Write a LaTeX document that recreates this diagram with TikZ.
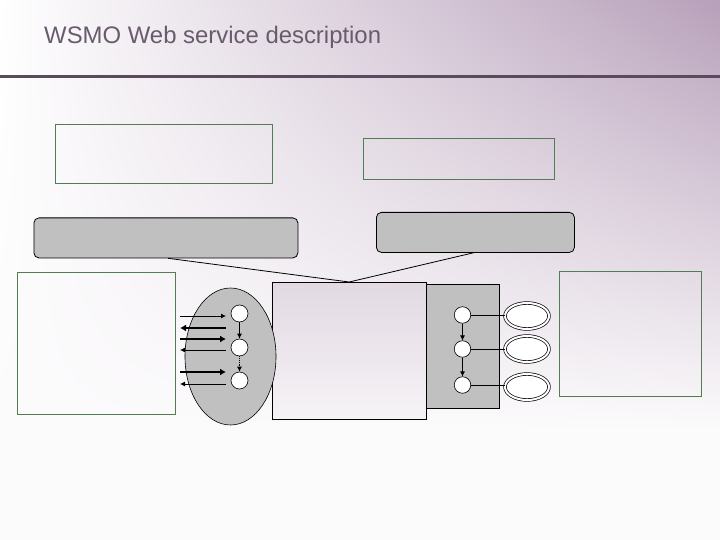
\documentclass[tikz,border=0pt]{standalone}
\usepackage{fontspec}
\setmainfont{Liberation Sans}
\usetikzlibrary{calc,shapes.geometric,arrows.meta,shadings}
\definecolor{bgpurple}{RGB}{183,160,186}
\definecolor{bgpale}{RGB}{252,251,252}
\definecolor{titlecol}{RGB}{106,90,110}
\definecolor{rulecol}{RGB}{90,74,94}
\definecolor{boxgreen}{RGB}{80,125,82}
\definecolor{panelgray}{RGB}{192,192,192}
\begin{document}
\begin{tikzpicture}[x=1pt,y=-1pt,
  greenbox/.style={draw=boxgreen,line width=0.9pt,anchor=north west,inner sep=0pt},
  capbox/.style={draw=black,fill=panelgray,rounded corners=5pt,line width=0.8pt,anchor=north west,inner sep=0pt},
  state/.style={circle,draw=black,fill=white,line width=0.6pt,minimum size=17pt,inner sep=0pt},
  outring/.style={ellipse,draw=black,double=white,double distance=2pt,line width=0.7pt,fill=white,minimum width=44pt,minimum height=26pt,inner sep=0pt},
  tip/.style={-{Latex[length=5pt,width=5pt]}},
  msgthin/.style={tip,line width=0.8pt},
  msgthick/.style={tip,line width=2.2pt,-{Latex[length=6pt,width=7pt]}}]
\useasboundingbox (0,0) rectangle (720,540);
\fill[bgpale] (0,430) rectangle (720,540);
\shade[upper left=white,upper right=bgpurple,lower left=bgpale,lower right=bgpale] (0,0) rectangle (720,430.5);
\node[anchor=base west,text=titlecol,font=\fontsize{23.9}{28}\selectfont,inner sep=0pt] (title) at (44,44) {WSMO Web service description};
\draw[rulecol,line width=3pt] (0,77) -- (720,77);

\node[greenbox,minimum width=217pt,minimum height=59pt] (goalA) at (55,124) {};
\node[greenbox,minimum width=191pt,minimum height=41pt] (goalB) at (363,138) {};
\node[greenbox,minimum width=158pt,minimum height=142pt] (leftbox) at (17,272) {};
\node[greenbox,minimum width=142pt,minimum height=125pt] (rightbox) at (559,271) {};

\node[capbox,minimum width=264pt,minimum height=40pt] (capA) at (33.5,217.5) {};
\node[capbox,minimum width=198pt,minimum height=40pt] (capB) at (376,212) {};

\node[draw=black,fill=panelgray,line width=0.8pt,anchor=north west,inner sep=0pt,minimum width=74pt,minimum height=124pt] (orch) at (425,284) {};
\node[draw=black,top color={rgb,255:red,226;green,217;blue,227},bottom color={rgb,255:red,246;green,243;blue,246},line width=0.8pt,anchor=north west,inner sep=0pt,minimum width=153.5pt,minimum height=137pt] (mid) at (272,282) {};
\node[ellipse,draw=black,fill=panelgray,line width=0.6pt,minimum width=91pt,minimum height=137pt,inner sep=0pt] (chor) at (230.5,356.5) {};

\node[state] (chor1) at (239.5,313.5) {};
\node[state] (chor2) at (239.5,347.5) {};
\node[state] (chor3) at (239.5,380.5) {};
\node[state,minimum size=16.5pt] (orch1) at (462.5,315) {};
\node[state,minimum size=16.5pt] (orch2) at (462.5,349) {};
\node[state,minimum size=16.5pt] (orch3) at (462.5,385) {};
\node[outring] (out1) at (527,316) {};
\node[outring] (out2) at (527,349) {};
\node[outring] (out3) at (527,387) {};

\draw[tip,line width=0.8pt] (chor1) -- (chor2);
\draw[tip,line width=0.8pt,densely dotted] (chor2) -- (chor3);
\draw[tip,line width=0.8pt] (orch1) -- (orch2);
\draw[tip,line width=0.8pt] (orch2) -- (orch3);
\draw[line width=0.8pt] (orch1) -- (orch1 -| out1.west);
\draw[line width=0.8pt] (orch2) -- (orch2 -| out2.west);
\draw[line width=0.8pt] (orch3) -- (orch3 -| out3.west);

\foreach \i/\y in {1/316,2/328,3/339,4/350,5/372,6/384} {
  \coordinate (ml\i) at (180,\y);
  \coordinate (mr\i) at (226,\y);
}
\draw[msgthin] (ml1) -- (mr1);
\draw[msgthick] (mr2) -- (ml2);
\draw[msgthick] (ml3) -- (mr3);
\draw[msgthin] (mr4) -- (ml4);
\draw[msgthick] (ml5) -- (mr5);
\draw[msgthin] (mr6) -- (ml6);

\draw[line width=0.8pt] ($(capA.south west)!0.508!(capA.south east)$) -- (mid.north);
\draw[line width=0.8pt] ($(capB.south west)!0.49!(capB.south east)$) -- (mid.north);
\end{tikzpicture}
\end{document}
